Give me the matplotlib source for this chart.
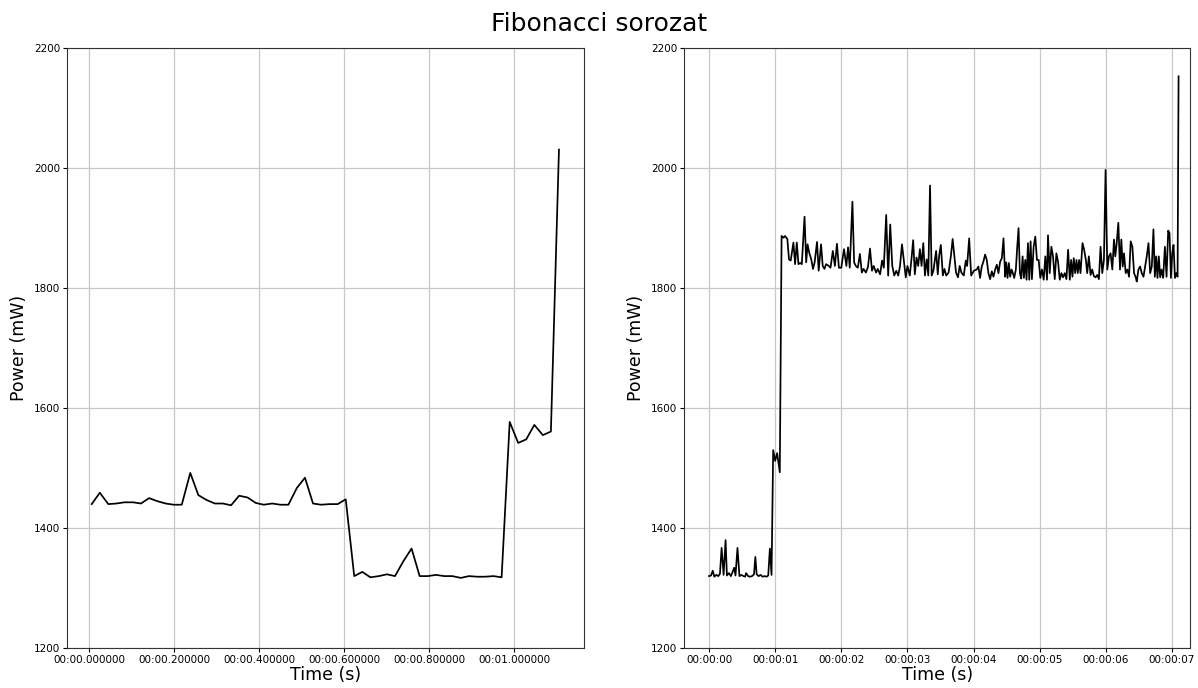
import matplotlib
matplotlib.use("Agg")
import matplotlib.pyplot as plt
from matplotlib.ticker import FuncFormatter

# ---------------- data ----------------
left_time = [0.006, 0.025, 0.045, 0.064, 0.083, 0.103, 0.122, 0.141, 0.160, 0.180,
             0.199, 0.218, 0.238, 0.257, 0.276, 0.296, 0.315, 0.334, 0.353, 0.373,
             0.392, 0.411, 0.431, 0.450, 0.469, 0.489, 0.508, 0.527, 0.546, 0.566,
             0.585, 0.604, 0.624, 0.643, 0.662, 0.682, 0.701, 0.720, 0.739, 0.759,
             0.778, 0.797, 0.817, 0.836, 0.855, 0.875, 0.894, 0.913, 0.932, 0.952,
             0.971, 0.990, 1.010, 1.029, 1.048, 1.068, 1.087, 1.106]
left_power = [1440, 1459, 1440, 1441, 1443, 1443, 1441, 1450, 1445, 1441,
              1439, 1439, 1492, 1455, 1447, 1441, 1441, 1438, 1454, 1451,
              1442, 1439, 1441, 1439, 1439, 1467, 1484, 1441, 1439, 1440,
              1440, 1448, 1320, 1327, 1318, 1320, 1323, 1320, 1344, 1366,
              1320, 1320, 1322, 1320, 1320, 1317, 1320, 1319, 1319, 1320,
              1318, 1577, 1542, 1548, 1572, 1555, 1561, 2031]

right_time = [
    0.00, 0.03, 0.056, 0.08, 0.11, 0.14, 0.165, 0.19, 0.22, 0.25, 0.27, 0.30, 0.33, 0.36,
    0.38, 0.40, 0.43, 0.46, 0.49, 0.52, 0.545, 0.56, 0.59, 0.62, 0.65, 0.68, 0.70, 0.72,
    0.75, 0.78, 0.81, 0.84, 0.87, 0.895, 0.92, 0.945, 0.97, 1.00, 1.03, 1.07,
    1.097, 1.128, 1.148, 1.184, 1.209, 1.235, 1.276, 1.301, 1.327, 1.352, 1.378, 1.403,
    1.444, 1.469, 1.490, 1.515, 1.546, 1.572, 1.597, 1.633, 1.658, 1.694, 1.719, 1.745,
    1.770, 1.811, 1.837, 1.872, 1.903, 1.934, 1.964, 2.000, 2.041, 2.077, 2.102, 2.128,
    2.168, 2.194, 2.219, 2.250, 2.281, 2.311, 2.337, 2.372, 2.403, 2.434, 2.464, 2.490,
    2.526, 2.551, 2.587, 2.617, 2.643, 2.679, 2.709, 2.740, 2.771, 2.801, 2.832, 2.862,
    2.888, 2.918, 2.949, 2.975, 3.000, 3.036, 3.061, 3.087, 3.112, 3.138, 3.163, 3.189,
    3.214, 3.240, 3.265, 3.291, 3.316, 3.342, 3.367, 3.393, 3.434, 3.459, 3.480, 3.505,
    3.536, 3.561, 3.587, 3.623, 3.658, 3.684, 3.709, 3.735, 3.765, 3.791, 3.816, 3.852,
    3.883, 3.903, 3.934, 3.964, 4.005,
    4.048, 4.073, 4.099, 4.124, 4.149, 4.175, 4.200, 4.225, 4.251, 4.276, 4.301, 4.327,
    4.352, 4.377, 4.402, 4.428, 4.453, 4.478, 4.494, 4.514, 4.534, 4.554, 4.575, 4.595,
    4.615, 4.640, 4.661, 4.681, 4.701, 4.721, 4.742, 4.762, 4.782, 4.802, 4.823, 4.843,
    4.863, 4.883, 4.909, 4.934, 4.959, 4.985, 5.010, 5.035, 5.061, 5.086, 5.111, 5.126,
    5.152, 5.177, 5.202, 5.228, 5.253, 5.278, 5.304, 5.329, 5.354, 5.380, 5.405, 5.430,
    5.456, 5.476, 5.496, 5.516, 5.537, 5.557, 5.577, 5.597, 5.618, 5.648, 5.673, 5.699,
    5.719, 5.744, 5.770, 5.795, 5.820, 5.846, 5.871, 5.896, 5.921, 5.947, 5.972, 5.997,
    6.023, 6.048, 6.073, 6.099, 6.124, 6.144, 6.165, 6.190, 6.215, 6.235, 6.256, 6.276,
    6.301, 6.327, 6.352, 6.377, 6.402, 6.428, 6.453, 6.468, 6.494, 6.519, 6.544, 6.570,
    6.595, 6.620, 6.646, 6.671, 6.696, 6.721, 6.742, 6.762, 6.782, 6.802, 6.823, 6.843,
    6.868, 6.894, 6.919, 6.944, 6.964, 6.985, 7.005, 7.025, 7.046, 7.066, 7.086, 7.101]
right_power = [
    1320, 1321, 1329, 1319, 1322, 1320, 1324, 1367, 1322, 1380, 1321, 1325, 1320, 1328,
    1334, 1321, 1367, 1320, 1322, 1320, 1319, 1325, 1320, 1319, 1320, 1323, 1352, 1323,
    1320, 1322, 1319, 1320, 1319, 1321, 1366, 1322, 1530, 1512, 1525, 1493,
    1887, 1884, 1887, 1882, 1848, 1846, 1876, 1840, 1876, 1840, 1842, 1840,
    1919, 1843, 1873, 1859, 1848, 1832, 1843, 1877, 1829, 1873, 1837, 1832,
    1840, 1837, 1834, 1862, 1837, 1874, 1834, 1834, 1865, 1837, 1868, 1834,
    1944, 1843, 1837, 1834, 1857, 1826, 1832, 1826, 1835, 1866, 1829, 1837,
    1826, 1832, 1823, 1846, 1834, 1922, 1821, 1906, 1837, 1821, 1829, 1821,
    1837, 1873, 1843, 1818, 1837, 1821, 1848, 1880, 1823, 1851, 1837, 1865,
    1837, 1875, 1821, 1848, 1821, 1971, 1821, 1829, 1862, 1823, 1854, 1872,
    1821, 1832, 1821, 1826, 1854, 1882, 1854, 1826, 1818, 1837, 1826, 1821,
    1846, 1837, 1883, 1821, 1829,
    1831, 1836, 1817, 1836, 1844, 1856, 1847, 1825, 1815, 1828, 1819, 1831,
    1839, 1825, 1844, 1850, 1883, 1819, 1843, 1817, 1842, 1819, 1831, 1825,
    1817, 1831, 1869, 1900, 1825, 1816, 1853, 1817, 1847, 1814, 1875, 1814,
    1878, 1815, 1869, 1886, 1847, 1847, 1817, 1831, 1814, 1853, 1814, 1888,
    1825, 1869, 1853, 1815, 1858, 1844, 1814, 1825, 1818, 1825, 1815, 1864,
    1814, 1847, 1819, 1850, 1825, 1847, 1825, 1847, 1825, 1875, 1864, 1847,
    1825, 1853, 1822, 1831, 1820, 1818, 1822, 1815, 1869, 1825, 1847, 1997,
    1831, 1853, 1858, 1831, 1881, 1853, 1875, 1909, 1831, 1881, 1836, 1858,
    1825, 1831, 1819, 1878, 1869, 1825, 1818, 1811, 1831, 1836, 1825, 1819,
    1836, 1853, 1875, 1825, 1836, 1898, 1819, 1853, 1817, 1853, 1818, 1831,
    1817, 1869, 1819, 1896, 1892, 1817, 1858, 1872, 1817, 1825, 1819, 2153]

title = "Fibonacci sorozat"
xlabel = "Time (s)"
ylabel = "Power (mW)"
yticks = [1200, 1400, 1600, 1800, 2000, 2200]
left_xticks = [0.0, 0.2, 0.4, 0.6, 0.8, 1.0]
right_xticks = [0, 1, 2, 3, 4, 5, 6, 7]


def fmt_left(t, pos):
    t = max(t, 0.0)
    sec = int(t + 1e-9)
    micro = int(round((t - sec) * 1e6))
    if micro >= 1000000:
        sec += 1
        micro -= 1000000
    return f"00:{sec:02d}.{micro:06d}"


def fmt_right(t, pos):
    return f"00:00:{int(round(t)):02d}"


fig = plt.figure(figsize=(11.98, 6.88), dpi=100)
ax1 = fig.add_axes([0.056, 0.058, 0.4315, 0.872])
ax2 = fig.add_axes([0.571, 0.058, 0.4225, 0.872])

for ax, tx, py, xt, fmt, xl in [
        (ax1, left_time, left_power, left_xticks, fmt_left, (-0.052, 1.165)),
        (ax2, right_time, right_power, right_xticks, fmt_right, (-0.378, 7.277))]:
    ax.plot(tx, py, color="black", linewidth=1.25)
    ax.set_ylim(1200, 2200)
    ax.set_xlim(*xl)
    ax.set_yticks(yticks)
    ax.set_xticks(xt)
    ax.xaxis.set_major_formatter(FuncFormatter(fmt))
    ax.grid(True, color="#c8c8c8", linewidth=0.9)
    ax.set_axisbelow(True)
    ax.tick_params(labelsize=7.5, length=3, pad=2)
    ax.set_xlabel(xlabel, fontsize=12.5, labelpad=1)
    ax.set_ylabel(ylabel, fontsize=12.5, labelpad=4)
    for s in ax.spines.values():
        s.set_color("#333333")

fig.suptitle(title, fontsize=18, y=0.982)
fig.savefig("out.png", dpi=100)
